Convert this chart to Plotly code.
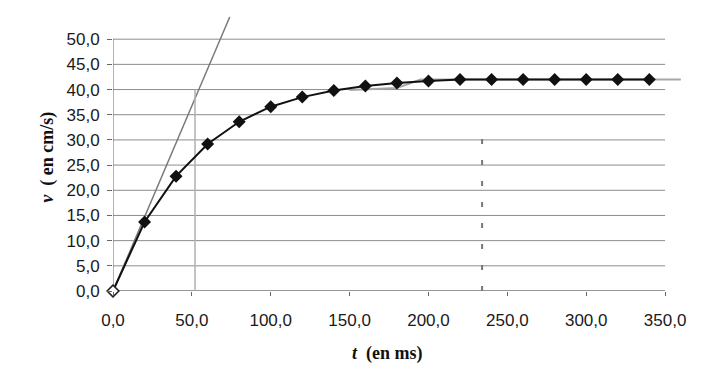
import plotly.graph_objects as go

# ---- data ----
t_ms = [0, 20, 40, 60, 80, 100, 120, 140, 160, 180, 200, 220, 240, 260, 280, 300, 320, 340]
v_cms = [0.0, 13.7, 22.8, 29.2, 33.6, 36.6, 38.5, 39.8, 40.7, 41.3, 41.7, 42.0, 42.0, 42.0, 42.0, 42.0, 42.0, 42.0]

# tangent at the origin
tangent_t = [0, 74]
tangent_v = [0, 54.4]
# vertical construction line at tau
tau_t = [52, 52]
tau_v = [0, 40]
# dashed vertical line
dash_t = [234, 234]
dash_v = [0, 31]
# grey model / asymptote
model_t = [150, 180, 195, 360]
model_v = [39.9, 40.3, 42.0, 42.0]

x_ticks = [0, 50, 100, 150, 200, 250, 300, 350]
x_tick_labels = ["0,0", "50,0", "100,0", "150,0", "200,0", "250,0", "300,0", "350,0"]
y_ticks = [0, 5, 10, 15, 20, 25, 30, 35, 40, 45, 50]
y_tick_labels = ["0,0", "5,0", "10,0", "15,0", "20,0", "25,0", "30,0", "35,0", "40,0", "45,0", "50,0"]

fig = go.Figure()

fig.add_trace(go.Scatter(x=tangent_t, y=tangent_v, mode="lines",
                         line=dict(color="#7a7a7a", width=1.5), hoverinfo="skip"))
fig.add_trace(go.Scatter(x=tau_t, y=tau_v, mode="lines",
                         line=dict(color="#b0b0b0", width=1.5), hoverinfo="skip"))
fig.add_trace(go.Scatter(x=dash_t, y=dash_v, mode="lines",
                         line=dict(color="#777777", width=2, dash="5px,16px"), hoverinfo="skip"))
fig.add_trace(go.Scatter(x=model_t, y=model_v, mode="lines",
                         line=dict(color="#a8a8a8", width=2), hoverinfo="skip"))
fig.add_trace(go.Scatter(x=t_ms, y=v_cms, mode="lines+markers",
                         line=dict(color="#111111", width=2),
                         marker=dict(symbol="diamond", size=10, color="#111111",
                                     line=dict(color="#111111", width=0)),
                         cliponaxis=False))
# hollow marker at the origin
fig.add_trace(go.Scatter(x=t_ms[:1], y=v_cms[:1], mode="markers",
                         marker=dict(symbol="diamond", size=9, color="white",
                                     line=dict(color="#222222", width=1.5)),
                         cliponaxis=False))

shapes = []
for yv in y_ticks:
    shapes.append(dict(type="line", xref="x", yref="y", x0=x_ticks[0], x1=x_ticks[-1],
                       y0=yv, y1=yv, line=dict(color="#8c8c8c", width=1), layer="below"))
shapes.append(dict(type="line", xref="x", yref="y", x0=0, x1=0, y0=y_ticks[0], y1=y_ticks[-1],
                   line=dict(color="#666666", width=1), layer="below"))
shapes.append(dict(type="line", xref="x", yref="y", x0=x_ticks[0], x1=x_ticks[-1], y0=0, y1=0,
                   line=dict(color="#666666", width=1), layer="below"))

fig.update_layout(
    width=704, height=370,
    margin=dict(l=105, r=28, t=6, b=87),
    paper_bgcolor="white", plot_bgcolor="white",
    showlegend=False,
    shapes=shapes,
    font=dict(family="Liberation Sans, Arial, sans-serif", size=17, color="#1a1a1a"),
    annotations=[
        dict(text="<b><i>v</i>  ( en cm/s)</b>", xref="paper", yref="paper",
             x=-0.114, y=0.484, textangle=-90, showarrow=False,
             font=dict(family="Liberation Serif, Times New Roman, serif", size=18, color="#111111"),
             xanchor="center", yanchor="middle"),
        dict(text="<b><i>t</i>  (en ms)</b>", xref="paper", yref="paper",
             x=0.4816, y=-0.224, showarrow=False,
             font=dict(family="Liberation Serif, Times New Roman, serif", size=18, color="#111111"),
             xanchor="center", yanchor="middle"),
    ],
)
fig.update_xaxes(range=[0, 362], showgrid=False, zeroline=False, showline=False,
                 tickvals=x_ticks, ticktext=x_tick_labels,
                 ticks="outside", ticklen=4, tickcolor="#666666",
                 ticklabelstandoff=10)
fig.update_yaxes(range=[0, 55], showgrid=False, zeroline=False, showline=False,
                 tickvals=y_ticks, ticktext=y_tick_labels,
                 ticks="outside", ticklen=5, tickcolor="#666666",
                 ticklabelstandoff=4)

fig.write_html("out.html")
